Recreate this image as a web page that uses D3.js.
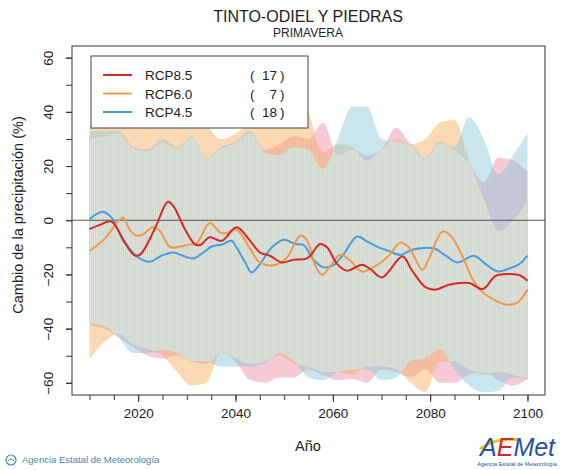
<!DOCTYPE html>
<html>
<head>
<meta charset="utf-8">
<script src="https://cdn.jsdelivr.net/npm/d3@7"></script>
<style>
  body { margin: 0; background: white; }
  text { font-family: "Liberation Sans", Arial, sans-serif; }
</style>
</head>
<body>
<svg id="plot"></svg>
<script>
// series names / counts for the legend
const scenarios = ['RCP8.5', 'RCP6.0', 'RCP4.5'];
const modelCounts = [17, 7, 18];
const lineColors = ['#d42a26', '#ef9a4c', '#4a9de0'];

// smoothed ensemble means (year, % change)
const yearsRcp85 = [2010, 2012, 2014.5, 2017.2, 2019.3, 2020.5, 2023.4, 2026.1, 2027.2, 2029.6, 2031.6, 2032.7, 2034.7, 2037.2, 2040.2, 2043, 2045, 2047.1, 2049.5, 2051.9, 2054.7, 2057.4, 2058.8, 2060.9, 2062.9, 2066, 2067.7, 2070.1, 2074.3, 2076.3, 2079.1, 2081.1, 2083.9, 2088, 2090.8, 2093.5, 2096.9, 2098.3, 2100];
const valsRcp85 = [-3.3, -1.8, -0.5, -8.2, -13, -12.5, -3.2, 6.8, 5.3, -3.3, -8.8, -9.2, -6.3, -7.6, -2.6, -7.6, -11.9, -13.1, -15.6, -14.6, -14.1, -8.8, -10, -16.2, -18.6, -16.4, -18, -21.1, -13.4, -18.6, -24.8, -25.6, -23.8, -23.2, -25.4, -20.5, -19.9, -20.2, -22.3];

const yearsRcp60 = [2010, 2013.1, 2015.2, 2016.9, 2018.2, 2019.6, 2021, 2023, 2024.4, 2026.5, 2027.9, 2030.3, 2032, 2034.7, 2036.8, 2038, 2040.2, 2043, 2045, 2048.1, 2050.6, 2053.3, 2054.7, 2056.4, 2057.8, 2059.5, 2061.5, 2063.6, 2066, 2068.1, 2071.2, 2073.9, 2075.6, 2078.4, 2079.8, 2082.5, 2084.2, 2086.6, 2088.7, 2090.8, 2093.5, 2095.9, 2098, 2100];
const valsRcp60 = [-11.3, -6.9, -2, 1, -3.3, -5.7, -5.2, -2.6, -3.9, -9.8, -10, -9, -8.5, -1, -4.5, -4.8, -3.4, -10.6, -15.6, -16.5, -13.7, -5.7, -7.4, -16.8, -20.2, -16.8, -12.7, -14.9, -19, -17.6, -13.7, -8.2, -10, -18.3, -14, -4.2, -5.7, -13.1, -21.7, -26.6, -29.7, -31.2, -30.3, -25.6];

const yearsRcp45 = [2010, 2012.7, 2014.5, 2016.5, 2018.6, 2020.3, 2022.4, 2024.8, 2027.2, 2029.2, 2031.3, 2033.4, 2035.1, 2037.2, 2039.2, 2040.2, 2042, 2043.3, 2045, 2047.5, 2049.9, 2052.3, 2054, 2056, 2058.1, 2060.1, 2062.2, 2065, 2067.1, 2069.4, 2071.5, 2073.9, 2076.3, 2080.8, 2083.2, 2085.6, 2089, 2091.4, 2093.9, 2096.2, 2098.3, 2100];
const valsRcp45 = [0.4, 3.1, 1, -5.7, -11.3, -14.1, -15.3, -13.1, -11.9, -13.1, -14.1, -11.9, -9.7, -9, -7.6, -10, -15.6, -19.3, -16.2, -10, -7.2, -8.8, -9.2, -14.6, -17.4, -16.6, -12.5, -6, -7.9, -10, -11.3, -12.8, -10.9, -10.4, -13.1, -15.6, -13.1, -16.2, -18.9, -17.8, -16.2, -13.1];

// spread of the ensembles (upper / lower), sampled every 3 years
const bandYears = [2010, 2013, 2016, 2019, 2022, 2025, 2028, 2031, 2034, 2037, 2040, 2043, 2046, 2049, 2052, 2055, 2058, 2061, 2064, 2067, 2070, 2073, 2076, 2079, 2082, 2085, 2088, 2091, 2094, 2097, 2100];
const upperRcp85 = [30, 31, 32, 26.5, 25.5, 29, 26.5, 30.5, 23, 26.5, 28.5, 32, 26, 28, 31, 30, 36, 24, 26, 24, 26, 34, 28, 22.5, 28.5, 26, 21, 14, 23, 22, 18];
const lowerRcp85 = [-39, -40, -43, -47, -50, -51, -50, -52, -53, -49, -52, -59, -60, -58, -58, -55, -57, -59, -58.5, -60, -55, -56, -58, -55, -60, -60, -57, -56, -59, -61, -58.5];
const upperRcp60 = [35, 40, 48, 45, 42, 45, 40, 38, 35, 30, 32, 36, 40, 38, 52, 40, 25, 28, 27, 22, 26, 30, 28, 30, 36, 37, 22, 8, -4, 0, 7];
const lowerRcp60 = [-51, -45, -42, -46, -47.5, -50, -56, -61, -60, -49, -51, -53, -52, -50, -53, -54, -56, -56, -57, -54, -54, -55, -60, -63.5, -52, -52, -55, -57, -56, -57, -59];
const upperRcp45 = [33, 33, 33, 27, 26, 30, 27, 31, 23, 27, 29, 33, 25, 24, 27, 26, 19, 30, 42, 42, 30, 29, 28, 23, 29, 27, 38, 30, 17, 24, 32];
const lowerRcp45 = [-38, -39, -43.5, -49, -49, -48, -49, -52, -52, -54, -54, -54, -53, -49, -52, -58, -59, -56, -55, -55, -59, -58, -52, -51, -47.5, -55, -61, -63.5, -63, -58, -58];

const yTicks = [-60, -40, -20, 0, 20, 40, 60];
const xTicks = [2020, 2040, 2060, 2080, 2100];

let width = 561, height = 470;
let margin = { top: 46, bottom: 75, left: 72, right: 16 };

let svg = d3.select('#plot')
  .attr('width', width)
  .attr('height', height)
  .style('background', 'white');

let xScale = d3.scaleLinear()
  .domain([2006.4, 2103.6])
  .range([margin.left, width - margin.right]);

let yScale = d3.scaleLinear()
  .domain([-64.5, 64.3])
  .range([height - margin.bottom, margin.top]);

let series = [
  { years: yearsRcp85, vals: valsRcp85, up: upperRcp85, lo: lowerRcp85, band: 'rgba(232,118,148,0.4)' },
  { years: yearsRcp60, vals: valsRcp60, up: upperRcp60, lo: lowerRcp60, band: 'rgba(247,150,45,0.38)' },
  { years: yearsRcp45, vals: valsRcp45, up: upperRcp45, lo: lowerRcp45, band: 'rgba(110,190,214,0.4)' }
];

let area = (s) => d3.area()
  .x((d, i) => xScale(bandYears[i]))
  .y0((d, i) => yScale(s.lo[i]))
  .y1((d, i) => yScale(s.up[i]))
  .curve(d3.curveMonotoneX)(bandYears);

let defs = svg.append('defs');
series.forEach((s, k) => {
  defs.append('clipPath').attr('id', 'band' + k)
    .append('path').attr('d', area(s));
});
// fine vertical hatching like the original shading
let hatch = defs.append('pattern').attr('id', 'hatch')
  .attr('patternUnits', 'userSpaceOnUse').attr('width', 2).attr('height', 4);
hatch.append('rect').attr('width', 1).attr('height', 4).attr('fill', 'rgba(255,255,255,0.08)');

// the three ensemble spreads
let bands = svg.append('g');
series.forEach(s => {
  bands.append('path')
    .attr('d', area(s))
    .attr('fill', s.band);
});

// where all three spreads overlap
bands.append('g').attr('clip-path', 'url(#band0)')
  .append('g').attr('clip-path', 'url(#band1)')
  .append('g').attr('clip-path', 'url(#band2)')
  .append('rect')
  .attr('x', margin.left).attr('y', margin.top)
  .attr('width', width - margin.left - margin.right)
  .attr('height', height - margin.top - margin.bottom)
  .attr('fill', '#d2d8cf');

series.forEach(s => {
  bands.append('path')
    .attr('d', area(s))
    .attr('fill', 'url(#hatch)');
});

// zero line
svg.append('line')
  .attr('x1', margin.left).attr('x2', width - margin.right)
  .attr('y1', yScale(0)).attr('y2', yScale(0))
  .attr('stroke', '#555').attr('stroke-width', 1.2);

// mean lines, RCP4.5 first so RCP8.5 ends on top
[2, 1, 0].forEach(k => {
  let s = series[k];
  svg.append('path')
    .datum(s.vals)
    .attr('fill', 'none')
    .attr('stroke', lineColors[k])
    .attr('stroke-width', 2)
    .attr('d', d3.line()
      .x((d, i) => xScale(s.years[i]))
      .y(d => yScale(d))
      .curve(d3.curveCatmullRom.alpha(0.5)));
});

// frame
svg.append('rect')
  .attr('x', margin.left).attr('y', margin.top)
  .attr('width', width - margin.left - margin.right)
  .attr('height', height - margin.top - margin.bottom)
  .attr('fill', 'none').attr('stroke', '#333').attr('stroke-width', 1);

// axes
let xAxis = svg.append('g')
  .attr('transform', `translate(0, ${height - margin.bottom})`)
  .call(d3.axisBottom(xScale).tickValues(xTicks).tickSize(7).tickPadding(6).tickFormat(d3.format('d')));
let xMinor = svg.append('g')
  .attr('transform', `translate(0, ${height - margin.bottom})`)
  .call(d3.axisBottom(xScale).tickValues(d3.range(2010, 2101, 5)).tickSize(5).tickFormat(''));

let yAxis = svg.append('g')
  .attr('transform', `translate(${margin.left}, 0)`)
  .call(d3.axisLeft(yScale).tickValues(yTicks).tickSize(6).tickFormat(d3.format('d')));
let yMinor = svg.append('g')
  .attr('transform', `translate(${margin.left}, 0)`)
  .call(d3.axisLeft(yScale).tickValues(d3.range(-60, 61, 10)).tickSize(6).tickFormat(''));

[xAxis, xMinor, yAxis, yMinor].forEach(a => {
  a.select('.domain').remove();
  a.selectAll('line').attr('stroke', '#333');
});
xAxis.selectAll('text')
  .style('font-size', '13.5px').attr('fill', '#222');

yAxis.selectAll('text')
  .style('font-size', '13.5px').attr('fill', '#222')
  .attr('text-anchor', 'middle')
  .attr('x', 0).attr('dy', 0)
  .attr('transform', 'translate(-19,0) rotate(-90)');

// titles
svg.append('text')
  .attr('x', 308).attr('y', 22)
  .attr('text-anchor', 'middle')
  .style('font-size', '16px').attr('fill', '#222')
  .text('TINTO-ODIEL Y PIEDRAS');
svg.append('text')
  .attr('x', 308).attr('y', 37)
  .attr('text-anchor', 'middle')
  .style('font-size', '12px').attr('fill', '#222')
  .text('PRIMAVERA');

svg.append('text')
  .attr('x', 308).attr('y', 451)
  .attr('text-anchor', 'middle')
  .style('font-size', '14.5px').attr('fill', '#222')
  .text('Año');

svg.append('text')
  .attr('transform', 'translate(23, 215) rotate(-90)')
  .attr('text-anchor', 'middle')
  .style('font-size', '14.5px').attr('fill', '#222')
  .text('Cambio de la precipitación (%)');

// legend
let legend = svg.append('g');
legend.append('rect')
  .attr('x', 91).attr('y', 56).attr('width', 217).attr('height', 72)
  .attr('fill', 'white').attr('stroke', '#444');
scenarios.forEach((name, i) => {
  let yy = 75 + i * 18.5;
  legend.append('line')
    .attr('x1', 103).attr('x2', 132).attr('y1', yy).attr('y2', yy)
    .attr('stroke', lineColors[i]).attr('stroke-width', 2);
  legend.append('text')
    .attr('x', 145).attr('y', yy + 5)
    .style('font-size', '13.5px').attr('fill', '#222')
    .text(name);
  legend.append('text')
    .attr('x', 250).attr('y', yy + 5)
    .style('font-size', '13.5px').attr('fill', '#222')
    .text('(');
  legend.append('text')
    .attr('x', 277).attr('y', yy + 5)
    .attr('text-anchor', 'end')
    .style('font-size', '13.5px').attr('fill', '#222')
    .text(modelCounts[i]);
  legend.append('text')
    .attr('x', 280).attr('y', yy + 5)
    .style('font-size', '13.5px').attr('fill', '#222')
    .text(')');
});

// footer credit
let credit = svg.append('g').attr('transform', 'translate(11, 460)');
credit.append('circle').attr('r', 5).attr('fill', 'none').attr('stroke', '#4f84ad').attr('stroke-width', 1.2);
credit.append('path').attr('d', 'M-3,1 Q0,-3 3,1').attr('fill', 'none').attr('stroke', '#4f84ad');
svg.append('text')
  .attr('x', 22).attr('y', 463)
  .style('font-size', '9.5px').attr('fill', '#4f84ad')
  .text('Agencia Estatal de Meteorología');

// AEMet logo
let logo = svg.append('g');
logo.append('path')
  .attr('d', 'M480,449 C491,441 505,438 520,440')
  .attr('fill', 'none').attr('stroke', '#f2c21b').attr('stroke-width', 3);
let logoText = logo.append('text')
  .attr('x', 480).attr('y', 456)
  .style('font-size', '25px').style('font-style', 'italic');
logoText.append('tspan').attr('fill', '#2552a3').text('A');
logoText.append('tspan').attr('fill', '#d42a26').text('E');
logoText.append('tspan').attr('fill', '#2552a3').text('Met');
logo.append('text')
  .attr('x', 517).attr('y', 466)
  .attr('text-anchor', 'middle')
  .style('font-size', '5.5px').attr('fill', '#2552a3')
  .text('Agencia Estatal de Meteorología');
</script>
</body>
</html>
